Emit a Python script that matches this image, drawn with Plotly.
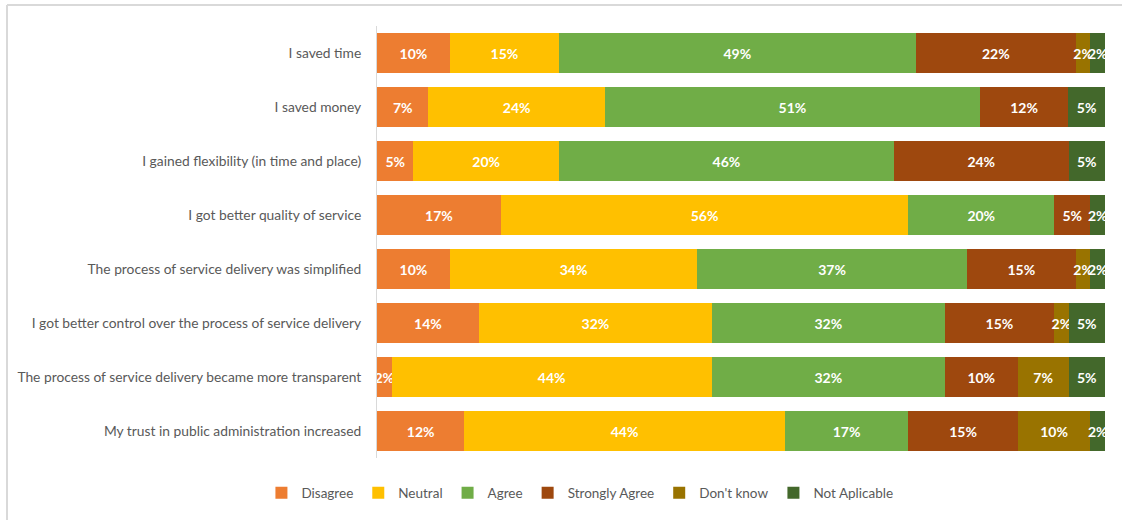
import plotly.graph_objects as go

# Survey statements (top to bottom)
statements = [
    "I saved time",
    "I saved money",
    "I gained flexibility (in time and place)",
    "I got better quality of service",
    "The process of service delivery was simplified",
    "I got better control over the process of service delivery",
    "The process of service delivery became more transparent",
    "My trust in public administration increased",
]

# Share of answers per statement (%)
disagree = [10, 7, 5, 17, 10, 14, 2, 12]
neutral = [15, 24, 20, 56, 34, 32, 44, 44]
agree = [49, 51, 46, 20, 37, 32, 32, 17]
strongly_agree = [22, 12, 24, 5, 15, 15, 10, 15]
dont_know = [2, 0, 0, 0, 2, 2, 7, 10]
not_applicable = [2, 5, 5, 2, 2, 5, 5, 2]

series = [
    ("Disagree", disagree, "#ED7D31"),
    ("Neutral", neutral, "#FFC000"),
    ("Agree", agree, "#70AD47"),
    ("Strongly Agree", strongly_agree, "#9E480E"),
    ("Don't know", dont_know, "#997300"),
    ("Not Aplicable", not_applicable, "#43682B"),
]

FONT = "Lato, Carlito, Calibri, 'Open Sans', sans-serif"

fig = go.Figure()
for name, vals, color in series:
    labels = [f"{v}%" if v > 0 else "" for v in vals]
    fig.add_trace(go.Bar(
        name=name,
        y=statements,
        x=vals,
        orientation="h",
        marker=dict(color=color, line=dict(width=0)),
        text=labels,
        textposition="inside",
        insidetextanchor="middle",
        textangle=0,
        textfont=dict(family=FONT, size=14, color="white", weight="bold"),
        hoverinfo="skip",
    ))

fig.update_layout(
    width=1122,
    height=520,
    barmode="stack",
    barnorm="percent",
    bargap=0.26,
    plot_bgcolor="white",
    paper_bgcolor="white",
    margin=dict(l=377, r=17, t=26, b=62),
    font=dict(family=FONT, size=14, color="#595959"),
    uniformtext=dict(mode="show", minsize=14),
    showlegend=True,
    legend=dict(
        orientation="h",
        xref="container",
        yref="container",
        x=0.233,
        xanchor="left",
        y=0.052,
        yanchor="middle",
        font=dict(family=FONT, size=13.5, color="#595959"),
        itemwidth=30,
        traceorder="normal",
    ),
    xaxis=dict(
        range=[0, 100],
        showgrid=False,
        zeroline=False,
        showticklabels=False,
        ticks="",
        fixedrange=True,
    ),
    yaxis=dict(
        autorange="reversed",
        showgrid=False,
        showline=True,
        linecolor="#D9D9D9",
        linewidth=1,
        ticks="",
        ticklabelstandoff=12,
        tickfont=dict(family=FONT, size=13.8, color="#595959"),
    ),
    shapes=[
        dict(type="line", xref="paper", yref="paper", x0=-(377 - 7) / 728, x1=(1122 - 377) / 728,
             y0=1 + (26 - 5) / 432, y1=1 + (26 - 5) / 432, line=dict(color="#D9D9D9", width=2)),
        dict(type="line", xref="paper", yref="paper", x0=-(377 - 7) / 728, x1=-(377 - 7) / 728,
             y0=1 + (26 - 5) / 432, y1=-(520 - 458) / 432, line=dict(color="#D9D9D9", width=2)),
    ],
)

fig.write_html("out.html")
